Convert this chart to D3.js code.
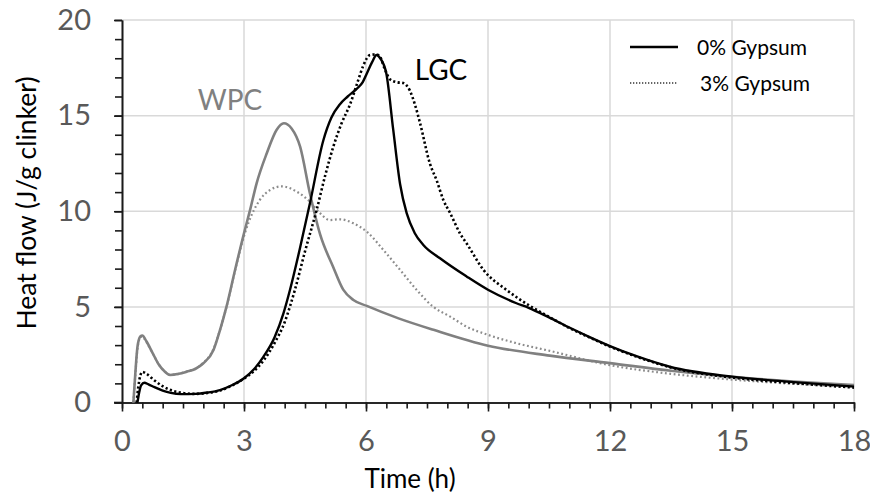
<!DOCTYPE html>
<html>
<head>
<meta charset="utf-8">
<script src="https://cdn.jsdelivr.net/npm/d3@7"></script>
<style>
  body { margin: 0; background: #fff; }
  text { font-family: Lato, "Open Sans", sans-serif; }
</style>
</head>
<body>
<svg id="chart" width="870" height="499"></svg>
<script>
// Heat flow curves, [time (h), heat flow (J/g clinker)]
const wpcNoGypsum = [
  [0.28,0],[0.33,1.6],[0.38,2.9],[0.45,3.45],[0.5,3.5],[0.6,3.2],[0.75,2.6],[0.9,2.0],
  [1.05,1.62],[1.18,1.44],[1.4,1.5],[1.59,1.61],[1.8,1.75],[2.0,2.05],[2.25,2.75],
  [2.41,3.79],[2.57,5.01],[2.78,6.93],[3.0,8.85],[3.15,10.07],[3.31,11.46],[3.56,13.03],
  [3.8,14.25],[3.98,14.6],[4.17,14.33],[4.38,13.38],[4.62,10.94],[4.87,8.8],[5.19,7.1],
  [5.44,5.9],[5.69,5.36],[6.02,5.05],[6.8,4.4],[7.66,3.8],[9.0,2.97],[10.52,2.45],
  [12,2.06],[13.5,1.66],[15,1.34],[16.5,1.1],[18,0.91]
];
const wpcGypsum = [
  [0.28,0],[0.33,1.5],[0.38,2.8],[0.45,3.4],[0.5,3.45],[0.6,3.15],[0.75,2.6],[0.9,2.0],
  [1.05,1.62],[1.18,1.45],[1.4,1.5],[1.59,1.62],[1.8,1.77],[2.0,2.07],[2.25,2.8],
  [2.41,3.8],[2.57,5.0],[2.78,6.9],[3.0,8.7],[3.11,9.4],[3.39,10.59],[3.64,11.11],
  [3.93,11.3],[4.3,11.02],[4.62,10.5],[4.87,9.9],[5.11,9.54],[5.36,9.58],[5.69,9.37],
  [6.02,8.93],[6.43,7.97],[6.84,6.93],[7.25,5.88],[7.65,5.01],[8.07,4.49],[8.48,3.96],
  [9.01,3.53],[9.7,3.1],[10.52,2.7],[12,1.95],[13.5,1.5],[15,1.2],[16.5,0.98],[18,0.84]
];
const lgcNoGypsum = [
  [0.38,0],[0.42,0.5],[0.47,0.9],[0.55,1.03],[0.65,0.95],[0.8,0.8],[1.0,0.62],[1.2,0.5],
  [1.45,0.44],[1.8,0.45],[2.1,0.52],[2.41,0.65],[2.7,0.9],[3.0,1.27],[3.25,1.75],
  [3.48,2.4],[3.75,3.4],[3.97,4.66],[4.13,5.88],[4.38,8.1],[4.62,10.4],[4.95,13.7],
  [5.15,14.9],[5.36,15.6],[5.55,16.0],[5.77,16.4],[5.92,16.75],[6.02,17.2],[6.15,17.8],
  [6.26,18.17],[6.35,18.0],[6.5,17.2],[6.67,14.25],[6.84,11.4],[7.0,9.9],[7.2,8.85],
  [7.41,8.24],[7.82,7.54],[8.48,6.58],[9.01,5.88],[9.7,5.19],[10.0,4.95],[10.5,4.45],
  [11.0,3.92],[11.5,3.42],[12,2.95],[12.65,2.42],[13.47,1.87],[15,1.35],[16.35,1.09],[18,0.83]
];
const lgcGypsum = [
  [0.36,0],[0.4,0.8],[0.45,1.4],[0.5,1.6],[0.6,1.5],[0.8,1.15],[1.0,0.85],[1.2,0.65],
  [1.5,0.5],[1.8,0.45],[2.1,0.5],[2.4,0.62],[2.7,0.88],[3.0,1.25],[3.25,1.65],[3.5,2.25],
  [3.75,3.1],[4.0,4.2],[4.25,5.88],[4.5,7.9],[4.79,10.1],[5.0,11.9],[5.2,13.4],[5.4,14.6],
  [5.61,15.6],[5.8,16.8],[5.93,17.6],[6.1,18.17],[6.25,18.2],[6.34,18.1],[6.45,17.5],
  [6.59,16.9],[6.75,16.75],[6.92,16.7],[7.08,16.3],[7.2,15.6],[7.33,14.6],[7.57,12.5],
  [7.74,11.6],[7.9,10.6],[8.07,9.9],[8.31,8.85],[8.48,8.3],[8.89,6.93],[9.46,5.88],
  [10.11,4.95],[10.5,4.48],[11.0,3.9],[11.5,3.4],[12,2.92],[12.65,2.4],[13.47,1.85],
  [15,1.3],[16.35,1.04],[18,0.78]
];

const xMajorTicks = [0, 3, 6, 9, 12, 15, 18];
const yMajorTicks = [0, 5, 10, 15, 20];
const legendLabels = ["0% Gypsum", "3% Gypsum"];

const svg = d3.select("#chart");
const margin = { left: 122, right: 16, top: 20, bottom: 96.5 };
const W = 870, H = 499;

const x = d3.scaleLinear().domain([0, 18]).range([margin.left, W - margin.right]);
const y = d3.scaleLinear().domain([0, 20]).range([H - margin.bottom, margin.top]);

// gridlines
const grid = svg.append("g").attr("stroke", "#d9d9d9").attr("stroke-width", 1.5);
grid.selectAll("line.h").data(yMajorTicks.slice(1)).join("line")
  .attr("x1", x(0)).attr("x2", x(18)).attr("y1", d => y(d)).attr("y2", d => y(d));
grid.selectAll("line.v").data(xMajorTicks.slice(1)).join("line")
  .attr("y1", y(0)).attr("y2", y(20)).attr("x1", d => x(d)).attr("x2", d => x(d));

// axes
const axisColor = "#1a1a1a";
const xMinor = svg.append("g").attr("transform", `translate(0,${y(0)})`)
  .call(d3.axisBottom(x).tickValues(d3.range(0, 18.01, 0.5)).tickSize(6).tickSizeOuter(0).tickFormat(""));
const xMajor = svg.append("g").attr("transform", `translate(0,${y(0)})`)
  .call(d3.axisBottom(x).tickValues(xMajorTicks).tickSize(9).tickSizeOuter(0).tickPadding(19));
const yMinor = svg.append("g").attr("transform", `translate(${x(0)},0)`)
  .call(d3.axisLeft(y).tickValues(d3.range(0, 20.01, 1)).tickSize(7).tickSizeOuter(0).tickFormat(""));
const yMajor = svg.append("g").attr("transform", `translate(${x(0)},0)`)
  .call(d3.axisLeft(y).tickValues(yMajorTicks).tickSize(8).tickSizeOuter(0).tickPadding(23));

[xMinor, xMajor, yMinor, yMajor].forEach(g => {
  g.selectAll("path, line").attr("stroke", axisColor).attr("stroke-width", 1.6);
  g.selectAll("text").attr("fill", "#595959").attr("font-size", 29)
    .style("font-family", "Lato, 'Open Sans', sans-serif");
});
// x axis line extends slightly left, crossing the y axis
svg.append("line").attr("x1", x(0) - 8).attr("x2", x(0)).attr("y1", y(0)).attr("y2", y(0))
  .attr("stroke", axisColor).attr("stroke-width", 1.6);

// axis titles
svg.append("text").attr("x", 410).attr("y", 488).attr("text-anchor", "middle")
  .attr("font-size", 26).attr("fill", "#000").text("Time (h)");
svg.append("text").attr("transform", `translate(36,203) rotate(-90)`).attr("text-anchor", "middle")
  .attr("font-size", 26.5).attr("fill", "#000").text("Heat flow (J/g clinker)");

// curves
const line = d3.line().x(d => x(d[0])).y(d => y(d[1])).curve(d3.curveMonotoneX);
const series = [
  { data: wpcGypsum, color: "#8c8c8c", width: 2.2, dash: "1.8,2.6" },
  { data: wpcNoGypsum, color: "#808080", width: 2.6, dash: null },
  { data: lgcGypsum, color: "#000", width: 2.6, dash: "2.2,2.4" },
  { data: lgcNoGypsum, color: "#000", width: 2.4, dash: null }
];
svg.append("g").selectAll("path").data(series).join("path")
  .attr("d", d => line(d.data))
  .attr("fill", "none")
  .attr("stroke", d => d.color)
  .attr("stroke-width", d => d.width)
  .attr("stroke-dasharray", d => d.dash);

// series labels
svg.append("text").attr("x", 230).attr("y", 110).attr("text-anchor", "middle")
  .attr("font-size", 28).attr("fill", "#808080").text("WPC");
svg.append("text").attr("x", 441).attr("y", 80).attr("text-anchor", "middle")
  .attr("font-size", 28).attr("fill", "#000").text("LGC");

// legend
const legend = svg.append("g");
const legendStyles = [
  { y: 47, dash: null, width: 2.4, color: "#000", tx: 697 },
  { y: 83, dash: "1.3,1.7", width: 1.4, color: "#333", tx: 700 }
];
legendStyles.forEach((s, i) => {
  legend.append("line").attr("x1", 630).attr("x2", 678).attr("y1", s.y).attr("y2", s.y)
    .attr("stroke", s.color).attr("stroke-width", s.width).attr("stroke-dasharray", s.dash);
  legend.append("text").attr("x", s.tx).attr("y", s.y + 8).attr("font-size", 21)
    .attr("fill", "#000").text(legendLabels[i]);
});
</script>
</body>
</html>
